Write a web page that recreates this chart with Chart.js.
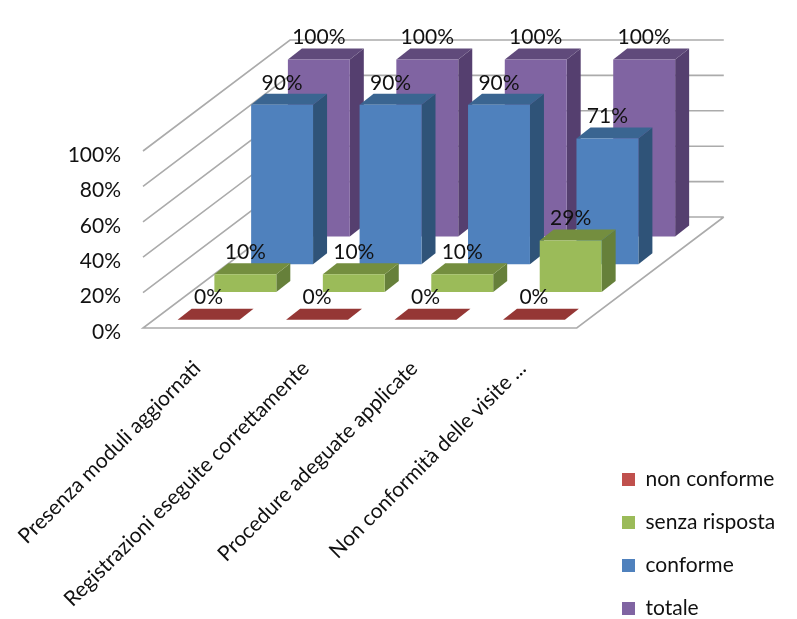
<!DOCTYPE html>
<html>
<head>
<meta charset="utf-8">
<script src="https://cdn.jsdelivr.net/npm/chart.js@4"></script>
<style>
  body { margin: 0; background: #fff; }
  canvas { display: block; }
</style>
</head>
<body>
<canvas id="myChart" width="797" height="619"></canvas>
<script>
const categories = ["Presenza moduli aggiornati", "Registrazioni eseguite correttamente", "Procedure adeguate applicate", "Non conformità delle visite ..."];
const nonConforme = [0, 0, 0, 0];
const senzaRisposta = [10, 10, 10, 29];
const conforme = [90, 90, 90, 71];
const totale = [100, 100, 100, 100];
const yTicks = [0, 20, 40, 60, 80, 100];

const seriesNames = ["non conforme", "senza risposta", "conforme", "totale"];
const seriesValues = [nonConforme, senzaRisposta, conforme, totale];
const frontColors = ["#C0504D", "#9BBB59", "#4F81BD", "#8064A2"];
const sideColors = ["#7B2E2C", "#66803A", "#2F5378", "#553F6F"];
const topColors = ["#953735", "#748E3F", "#3A6591", "#604A7B"];

// fake 3d: floor goes back by this much, each series sits in one quarter of it
const floorDepth = { x: 147, y: -111 };
const barDepth = { x: 14, y: -11 };
const labelFont = "21px Lato";

function seriesShift(i) {
    const slotX = floorDepth.x / seriesNames.length;
    const slotY = floorDepth.y / seriesNames.length;
    return {
        x: i * slotX + (slotX - barDepth.x) / 2,
        y: i * slotY + (slotY - barDepth.y) / 2
    };
}

function poly(ctx, pts, fill) {
    ctx.beginPath();
    pts.forEach((p, i) => i ? ctx.lineTo(p[0], p[1]) : ctx.moveTo(p[0], p[1]));
    ctx.closePath();
    ctx.fillStyle = fill;
    ctx.fill();
}

const fake3d = {
    id: "fake3d",
    afterLayout(chart) {
        // legend sits lower and further right than the layout would put it
        chart.legend.left = 600;
        chart.legend.right = 797;
        chart.legend.top = 447;
        chart.legend.bottom = 660;
    },
    beforeDatasetsDraw(chart) {
        const ctx = chart.ctx, y = chart.scales.y, area = chart.chartArea;
        const d = floorDepth;
        ctx.save();
        ctx.strokeStyle = "#ABABAB";
        ctx.lineWidth = 1.6;
        yTicks.forEach(v => {
            const py = y.getPixelForValue(v);
            ctx.beginPath();
            if (v === 0) {
                ctx.moveTo(area.right + d.x, py + d.y);
                ctx.lineTo(area.right, py);
                ctx.lineTo(area.left, py);
            } else {
                ctx.moveTo(area.left, py);
            }
            ctx.lineTo(area.left + d.x, py + d.y);
            ctx.lineTo(area.right + d.x, py + d.y);
            ctx.stroke();
        });
        ctx.restore();
    },
    beforeDatasetDraw(chart, args) {
        const ctx = chart.ctx, s = seriesShift(args.index);
        ctx.save();
        ctx.translate(s.x, s.y);
        args.meta.data.forEach(bar => {
            const l = bar.x - bar.width / 2, r = bar.x + bar.width / 2;
            const top = bar.y, bottom = bar.base;
            const dx = barDepth.x, dy = barDepth.y;
            poly(ctx, [[r, top], [r + dx, top + dy], [r + dx, bottom + dy], [r, bottom]], sideColors[args.index]);
            poly(ctx, [[l, top], [l + dx, top + dy], [r + dx, top + dy], [r, top]], topColors[args.index]);
        });
    },
    afterDatasetDraw(chart) {
        chart.ctx.restore();
    },
    afterDatasetsDraw(chart) {
        const ctx = chart.ctx;
        ctx.save();
        ctx.font = labelFont;
        ctx.fillStyle = "#111";
        ctx.textAlign = "center";
        ctx.textBaseline = "middle";
        seriesValues.forEach((vals, i) => {
            const s = seriesShift(i);
            chart.getDatasetMeta(i).data.forEach((bar, j) => {
                ctx.fillText(vals[j] + "%", bar.x + s.x, bar.y + s.y - 22);
            });
        });
        ctx.restore();
    }
};

new Chart("myChart", {
    type: "bar",
    data: {
        labels: categories,
        datasets: seriesNames.map((name, i) => ({
            label: name,
            data: seriesValues[i],
            backgroundColor: frontColors[i],
            borderWidth: 0,
            clip: false
        }))
    },
    options: {
        responsive: false,
        animation: false,
        layout: { padding: { top: 151, right: 35, bottom: 0, left: 0 } },
        datasets: { bar: { grouped: false, categoryPercentage: 1, barPercentage: 0.571 } },
        plugins: {
            tooltip: { enabled: false },
            legend: {
                position: "right",
                align: "start",
                labels: {
                    boxWidth: 13,
                    boxHeight: 13,
                    padding: 22,
                    color: "#111",
                    font: { family: "Lato", size: 21 }
                }
            }
        },
        scales: {
            x: {
                grid: { display: false },
                border: { display: false },
                afterFit(scale) {
                    scale.height = 291;
                    // rotated labels would otherwise push the plot to the right
                    scale.paddingLeft = 0;
                    scale.paddingRight = 0;
                },
                ticks: {
                    autoSkip: false,
                    minRotation: 45,
                    maxRotation: 45,
                    padding: 20,
                    color: "#111",
                    font: { family: "Lato", size: 21 }
                }
            },
            y: {
                min: 0,
                max: 100,
                grid: { display: false, drawTicks: false },
                border: { display: false },
                afterFit(scale) { scale.width = 143; },
                afterBuildTicks(scale) { scale.ticks = yTicks.map(v => ({ value: v })); },
                ticks: {
                    padding: 22,
                    labelOffset: 4,
                    color: "#111",
                    font: { family: "Lato", size: 21 },
                    callback: v => v + "%"
                }
            }
        }
    },
    plugins: [fake3d]
});
</script>
</body>
</html>
